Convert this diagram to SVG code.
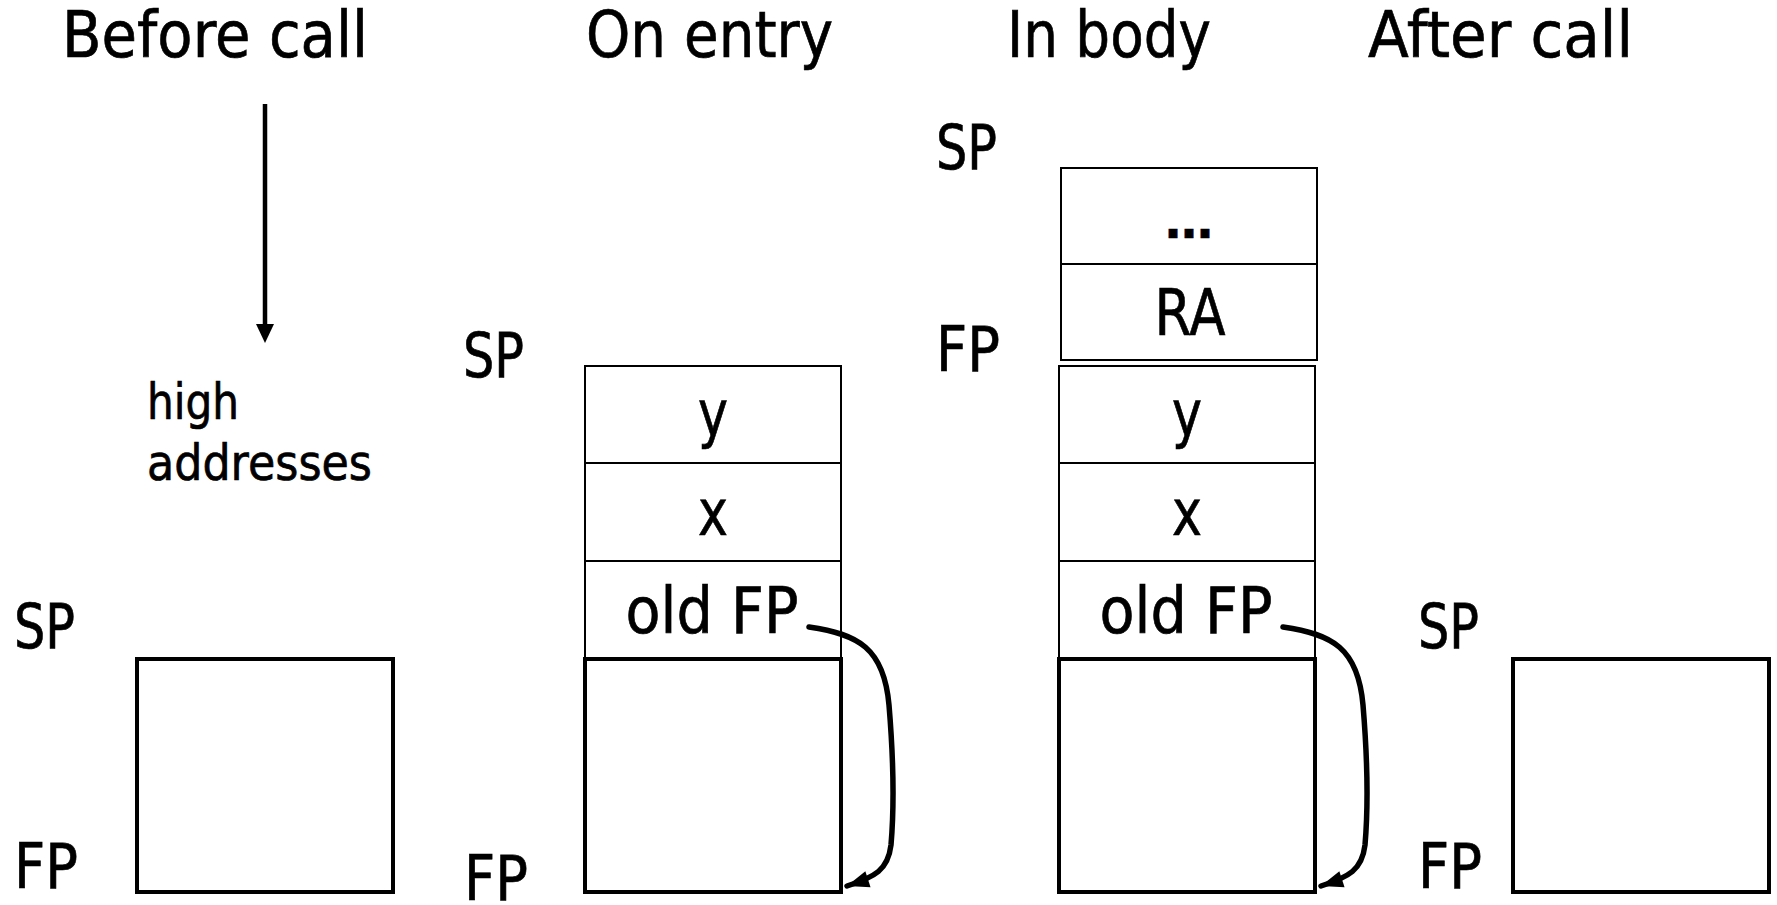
<svg xmlns="http://www.w3.org/2000/svg" width="1777" height="905" viewBox="0 0 1777 905">
<style>
text{font-family:"DejaVu Sans","Liberation Sans",sans-serif;fill:#000;stroke:#000;stroke-width:0.7}
.h{font-size:64px}
.lab{font-size:62px}
.cell{font-size:64px;text-anchor:middle}
.dots{font-size:48px;font-weight:bold;text-anchor:middle;stroke-width:0.5}
.small{font-size:49px}
.thin{fill:#fff;stroke:#000;stroke-width:2}
.thick{fill:#fff;stroke:#000;stroke-width:4}
.conn{fill:none;stroke:#000;stroke-width:5.5;stroke-linecap:round}
</style>
<defs>
<marker id="ah" markerUnits="userSpaceOnUse" markerWidth="26" markerHeight="22" viewBox="-24 -10 26 20" refX="0" refY="0" orient="auto">
<path d="M0,0 L-22,-8.5 L-22,8.5 z" fill="#000"/>
</marker>
</defs>
<rect width="1777" height="905" fill="#fff"/>
<g id="headings">
<text class="h" x="62" y="57" textLength="306" lengthAdjust="spacingAndGlyphs">Before call</text>
<text class="h" x="586" y="57" textLength="247" lengthAdjust="spacingAndGlyphs">On entry</text>
<text class="h" x="1007" y="57" textLength="204" lengthAdjust="spacingAndGlyphs">In body</text>
<text class="h" x="1368" y="57" textLength="265" lengthAdjust="spacingAndGlyphs">After call</text>
</g>
<g id="direction">
<line x1="265" y1="104" x2="265" y2="327" stroke="#000" stroke-width="4.5"/>
<polygon points="256,324 274,324 265,343" fill="#000"/>
<text class="small" x="147" y="419" textLength="92" lengthAdjust="spacingAndGlyphs">high</text>
<text class="small" x="147" y="480" textLength="225" lengthAdjust="spacingAndGlyphs">addresses</text>
</g>
<g id="before-call">
<text class="lab" x="14" y="648" textLength="61" lengthAdjust="spacingAndGlyphs">SP</text>
<text class="lab" x="14" y="888" textLength="64" lengthAdjust="spacingAndGlyphs">FP</text>
<rect class="thick" x="137" y="659" width="256" height="233"/>
</g>
<g id="on-entry">
<text class="lab" x="463" y="377" textLength="61" lengthAdjust="spacingAndGlyphs">SP</text>
<text class="lab" x="464" y="900" textLength="64" lengthAdjust="spacingAndGlyphs">FP</text>
<rect class="thin" x="585" y="366" width="256" height="97"/>
<rect class="thin" x="585" y="463" width="256" height="98"/>
<rect class="thin" x="585" y="561" width="256" height="97"/>
<rect class="thick" x="585" y="659" width="256" height="233"/>
<text class="cell" x="713" y="436" textLength="30" lengthAdjust="spacingAndGlyphs">y</text>
<text class="cell" x="713" y="535" textLength="30" lengthAdjust="spacingAndGlyphs">x</text>
<text class="cell" x="712" y="633" textLength="173" lengthAdjust="spacingAndGlyphs">old FP</text>
</g>
<g id="in-body">
<text class="lab" x="936" y="169" textLength="61" lengthAdjust="spacingAndGlyphs">SP</text>
<text class="lab" x="936" y="371" textLength="64" lengthAdjust="spacingAndGlyphs">FP</text>
<rect class="thin" x="1061" y="168" width="256" height="96"/>
<rect class="thin" x="1061" y="264" width="256" height="96"/>
<rect class="thin" x="1059" y="366" width="256" height="97"/>
<rect class="thin" x="1059" y="463" width="256" height="98"/>
<rect class="thin" x="1059" y="561" width="256" height="97"/>
<rect class="thick" x="1059" y="659" width="256" height="233"/>
<text class="dots" x="1189" y="238">…</text>
<text class="cell" x="1190" y="335" textLength="71" lengthAdjust="spacingAndGlyphs">RA</text>
<text class="cell" x="1187" y="436" textLength="30" lengthAdjust="spacingAndGlyphs">y</text>
<text class="cell" x="1187" y="535" textLength="30" lengthAdjust="spacingAndGlyphs">x</text>
<text class="cell" x="1186" y="633" textLength="173" lengthAdjust="spacingAndGlyphs">old FP</text>
</g>
<g id="after-call">
<text class="lab" x="1418" y="648" textLength="61" lengthAdjust="spacingAndGlyphs">SP</text>
<text class="lab" x="1418" y="888" textLength="64" lengthAdjust="spacingAndGlyphs">FP</text>
<rect class="thick" x="1513" y="659" width="256" height="233"/>
</g>
<g id="connectors">
<path class="conn" d="M809,627 C858,634 884,648 889,705 C894,765 894,810 891,845 C888,870 875,877 847,886" marker-end="url(#ah)"/>
<path class="conn" d="M1283,627 C1332,634 1358,648 1363,705 C1368,765 1368,810 1365,845 C1362,870 1349,877 1321,886" marker-end="url(#ah)"/>
</g>
</svg>
